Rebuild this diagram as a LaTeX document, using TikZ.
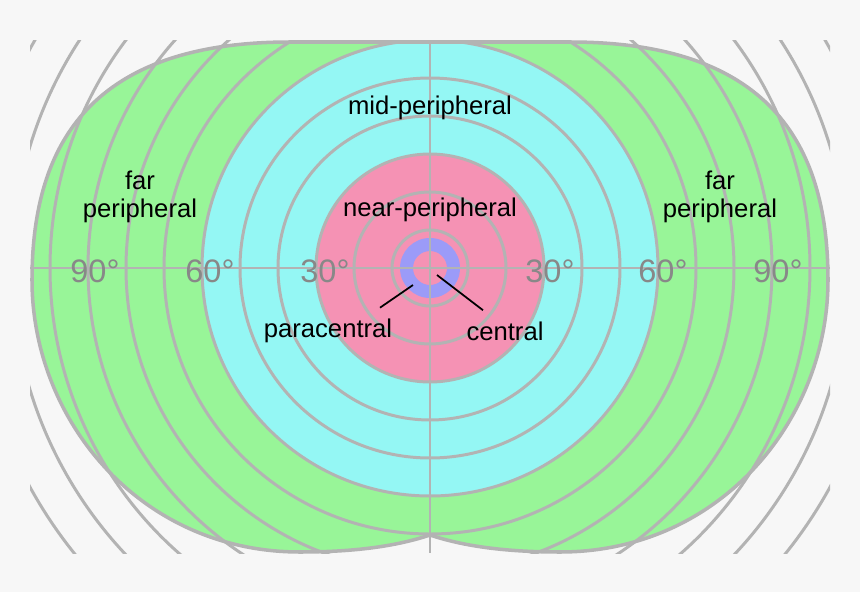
\documentclass[tikz,border=0pt]{standalone}
\usepackage{fontspec}
\setmainfont{Liberation Sans}
\definecolor{bgc}{HTML}{F7F7F7}
\definecolor{farc}{HTML}{98F598}
\definecolor{midc}{HTML}{94F7F4}
\definecolor{nearc}{HTML}{F592B4}
\definecolor{cenc}{HTML}{9B9BF8}
\definecolor{gridc}{HTML}{B3B3B3}
\definecolor{degc}{HTML}{888888}
\begin{document}
\begin{tikzpicture}[x=0.02cm,y=-0.02cm,
  grid/.style={gridc,line width=1.7pt},
  zone/.style={font=\fontsize{14.6}{16}\selectfont,align=center,inner sep=0pt},
  deg/.style={degc,font=\fontsize{18.5}{20}\selectfont,inner sep=0pt}]
\fill [bgc] (0,0) rectangle (860,592);
\useasboundingbox (0,0) rectangle (860,592);
% field outline
\def\field{(430,42) -- (290,42) .. controls (95,42) and (32,140) .. (32,280)
  .. controls (32,420) and (140,552) .. (300,552) .. controls (360,552) and (400,545) .. (430,535)
  .. controls (460,545) and (500,552) .. (560,552) .. controls (720,552) and (828,420) .. (828,280)
  .. controls (828,140) and (765,42) .. (570,42) -- cycle}
\fill [farc] \field;
\fill [midc] (430,268) circle (228);
\fill [nearc] (430,268) circle (114);
\fill [cenc, even odd rule] (430,268) circle (30) circle (17);
\begin{scope}
\clip (30,40) rectangle (830,553);
\foreach \r in {1,...,14}
  \draw [grid] (430,268) circle ({38*\r});
\end{scope}
\draw [gridc, line width=2pt] \field;
\draw [grid] (30,268) -- (830,268);
\draw [grid] (430,40) -- (430,553);
% labels
\node [zone] (mid) at (430,108) {mid-peripheral};
\node [zone] (near) at (430,210) {near-peripheral};
\node [zone] (farl) at (140,197) {far\\peripheral};
\node [zone] (farr) at (720,197) {far\\peripheral};
\node [zone] (para) at (328,331) {paracentral};
\node [zone] (cent) at (505,331) {central};
\foreach \px/\t in {95/90,210/60,325/30,550/30,663/60,778/90}
  \node [deg] (d\px) at (\px,271) {\t°};
\coordinate (pe) at (413,285);
\coordinate (ce) at (437,275);
\draw [black, line width=1pt] (para.north) ++(52,-11) -- (pe);
\draw [black, line width=1pt] (cent.north) ++(-22,-11) -- (ce);
\end{tikzpicture}
\end{document}
